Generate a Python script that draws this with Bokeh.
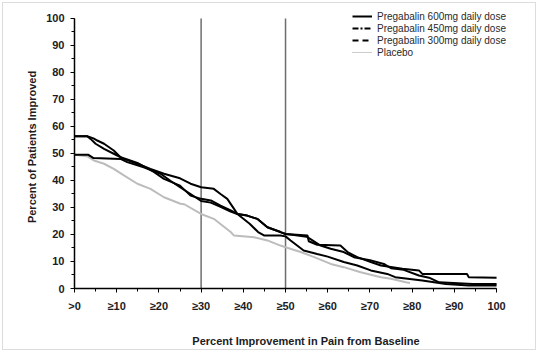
from bokeh.plotting import figure
from bokeh.models import FixedTicker, Legend, LegendItem
from bokeh.embed import file_html
from bokeh.resources import INLINE

# ---- data ----
x_ticks = [0, 10, 20, 30, 40, 50, 60, 70, 80, 90, 100]
x_tick_labels = [">0", "≥10", "≥20", "≥30", "≥40", "≥50", "≥60", "≥70", "≥80", "≥90", "100"]
y_ticks = [0, 10, 20, 30, 40, 50, 60, 70, 80, 90, 100]
ref_lines = [30, 50]

series_names = ["Pregabalin 600mg daily dose", "Pregabalin 450mg daily dose",
                "Pregabalin 300mg daily dose", "Placebo"]

x_600 = [0, 3, 3.8, 5, 7, 9.3, 11.7, 14.9, 18, 21.2, 25, 27.5, 30, 33, 34.6, 36.2, 37.8, 38.6,
         40.9, 43.3, 45.7, 48.8, 50, 55.2, 55.5, 57.5, 63, 64.7, 67, 70.2, 72.6, 77.7, 81.6,
         82.4, 93, 93.4, 100]
y_600 = [56.4, 56.4, 55.4, 53.6, 51.7, 49.9, 48, 46.2, 44.3, 42.5, 40.8, 38.8, 37.5, 36.9, 35,
         33.2, 29.5, 27.6, 27, 25.8, 22.7, 20.9, 20.2, 19.6, 17.5, 16.2, 15.9, 13.5, 11.6, 9.8,
         8.5, 7.3, 6.7, 5.4, 5.4, 4.2, 4.0]

x_450 = [0, 3, 4.5, 5.4, 7, 9.3, 10.9, 12.5, 14.9, 18.8, 21.2, 25, 27.5, 30, 32.3, 34.6, 37,
         38.6, 41.5, 43.5, 45, 48.8, 50, 51.2, 54.3, 57.5, 60, 63.8, 67, 70.2, 74.1, 76, 82.4,
         88, 93.4, 100]
y_450 = [56.4, 56.4, 55.6, 54.8, 53.6, 51.1, 48.6, 47.8, 46.5, 43.2, 40.6, 38.1, 34.4, 33.2,
         32.6, 30.7, 28.9, 27.6, 24.0, 20.9, 19.6, 19.6, 19.3, 17.8, 14.1, 12.8, 11.8, 9.8, 8.5,
         6.7, 5.4, 4.2, 3.0, 1.7, 1.1, 1.1]

x_300 = [0, 3.3, 4.5, 10.9, 12.5, 16.4, 20.4, 22.8, 25, 27.5, 30, 32.3, 34.6, 37, 38.6, 40.9,
         43.3, 45.7, 48.8, 50, 52, 55, 58.3, 60.7, 63.8, 66.2, 70, 73.3, 75, 78, 81.6, 84,
         86.4, 94.3, 100]
y_300 = [49.5, 49.5, 48.3, 48, 46.8, 44.9, 42.5, 39.8, 37.5, 35, 32.4, 31.8, 30.2, 28.5, 27.6,
         27, 25.8, 22.7, 20.9, 20.2, 19.8, 19.2, 15.9, 14.7, 13.5, 11.6, 10.5, 9.1, 7.5, 6.9,
         4.8, 4.0, 2.3, 1.7, 1.7]

x_pbo = [0, 3, 4.6, 7, 9.3, 11.7, 14.9, 18, 21.2, 25.1, 26, 30, 33, 37, 37.8, 42.5, 45.7,
         48.8, 50, 53.6, 56.8, 60.7, 63.8, 67.8, 72.6, 75, 78.5, 79.5]
y_pbo = [49.5, 49, 47.4, 46.2, 44.3, 41.9, 38.8, 36.9, 33.8, 31.4, 31.2, 27.6, 25.8, 20.9,
         19.6, 19, 17.8, 15.9, 15.3, 13.5, 11.6, 9.1, 7.9, 6, 4.2, 3.6, 2.3, 2.0]

FONT = "Liberation Sans"
TXT = "#1c1c24"

x_lo, x_hi = x_ticks[0], x_ticks[-1]
y_lo, y_hi = y_ticks[0], y_ticks[-1]

# frame is extended above/right of the axes so the legend has room (axes bounded to 0..100)
p = figure(width=534, height=348, output_backend="svg", toolbar_location=None,
           x_range=(x_lo, 109.7), y_range=(y_lo, 104.8),
           min_border_left=71, min_border_right=0, min_border_top=2, min_border_bottom=63)
p.styles = {"border": "1px solid #dcdcdc", "margin": "2px"}
p.xgrid.visible = False
p.ygrid.visible = False
p.outline_line_color = None
p.background_fill_color = "white"
p.border_fill_color = "white"

for ax, ticks in ((p.xaxis[0], x_ticks), (p.yaxis[0], y_ticks)):
    ax.ticker = FixedTicker(ticks=ticks, minor_ticks=list(range(0, 101, 5)))
    ax.bounds = (ticks[0], ticks[-1])
    ax.axis_line_color = "black"
    ax.axis_line_width = 1.5
    ax.major_tick_line_color = "black"
    ax.minor_tick_line_color = "black"
    ax.major_tick_in = 0
    ax.minor_tick_in = 0
    ax.major_tick_out = 4
    ax.minor_tick_out = 3
    ax.major_label_text_font = FONT
    ax.major_label_text_font_style = "bold"
    ax.major_label_text_font_size = "11px"
    ax.major_label_text_color = TXT
    ax.axis_label_text_font = FONT
    ax.axis_label_text_font_style = "bold"
    ax.axis_label_text_font_size = "11px"
    ax.axis_label_text_color = TXT

p.xaxis.major_label_overrides = {t: l for t, l in zip(x_ticks, x_tick_labels)}
p.xaxis.major_label_standoff = 7
p.xaxis.axis_label = "Percent Improvement in Pain from Baseline"
p.xaxis.axis_label_standoff = 20
p.yaxis.major_label_standoff = 6
p.yaxis.axis_label = "Percent of Patients Improved"
p.yaxis.axis_label_standoff = 5

# vertical reference lines at 30% and 50%
p.segment(x0=ref_lines, y0=[y_lo] * len(ref_lines), x1=ref_lines, y1=[y_hi] * len(ref_lines),
          line_color="#6e6e6e", line_width=1.5)

# curves
p.line(x_pbo, y_pbo, line_color="#bcbcbc", line_width=2)
p.line(x_300, y_300, line_color="black", line_width=2)
p.line(x_450, y_450, line_color="black", line_width=2)
p.line(x_600, y_600, line_color="black", line_width=2)

# legend proxies
nan = float("nan")
styles = [dict(line_color="black", line_dash="solid", line_width=2),
          dict(line_color="black", line_dash="6 2 2 2", line_width=2),
          dict(line_color="black", line_dash="6 4", line_width=2),
          dict(line_color="#999999", line_dash="1 1", line_width=1)]
items = []
for name, st in zip(series_names, styles):
    r = p.line([nan], [nan], **st)
    items.append(LegendItem(label=name, renderers=[r]))

leg = Legend(items=items, location=(278, 230), orientation="vertical",
             border_line_color=None, background_fill_alpha=0,
             padding=0, spacing=0, margin=0,
             glyph_width=20, glyph_height=12, label_height=12,
             label_standoff=5,
             label_text_font=FONT, label_text_font_size="10px",
             label_text_color="#2a2a2a")
p.add_layout(leg)

open("out.html", "w").write(file_html(p, INLINE))
